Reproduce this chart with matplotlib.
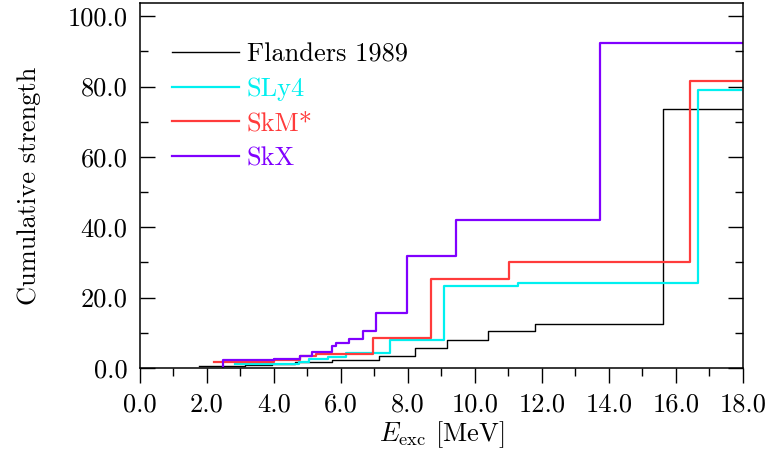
import matplotlib
matplotlib.use("Agg")
import matplotlib.pyplot as plt
from matplotlib.ticker import MultipleLocator, FormatStrFormatter

plt.rcParams['font.family'] = 'cmr10'
plt.rcParams['mathtext.fontset'] = 'cm'
plt.rcParams['axes.formatter.use_mathtext'] = True

# step edges (MeV) and cumulative strength after each edge
flanders_e = [1.76, 3.13, 3.93, 4.63, 5.72, 7.13, 8.20, 9.18, 10.40, 11.80, 15.62, 18.0]
flanders_s = [0.57, 0.85, 1.1, 1.7, 2.1, 3.3, 5.6, 7.8, 10.4, 12.5, 73.7, 73.7]

sly4_e = [2.84, 4.75, 5.05, 5.60, 6.15, 7.48, 9.07, 11.30, 16.65, 17.95]
sly4_s = [1.2, 1.8, 2.5, 3.2, 4.2, 7.8, 23.3, 24.0, 79.1, 79.1]

skm_e = [2.21, 4.00, 4.78, 5.27, 6.95, 8.69, 11.02, 16.42, 18.0]
skm_s = [1.8, 2.2, 3.3, 4.0, 8.6, 25.3, 30.0, 81.6, 81.6]

skx_e = [2.47, 2.47, 4.00, 4.78, 5.14, 5.72, 5.85, 6.25, 6.65, 7.05, 7.97, 9.43, 13.73, 18.0]
skx_s = [0.0, 2.3, 2.6, 3.5, 4.4, 6.2, 7.0, 8.2, 10.4, 15.6, 31.7, 42.0, 92.5, 92.5]

fig = plt.figure(figsize=(7.69, 4.57), dpi=100)
ax = fig.add_axes([0.182, 0.195, 0.784, 0.798])

ax.step(flanders_e, flanders_s, where='post', color='#000000', lw=1.0, label='Flanders 1989')
ax.step(sly4_e, sly4_s, where='post', color='#00f0f0', lw=1.6, label='SLy4')
ax.step(skm_e, skm_s, where='post', color='#ff3b3b', lw=1.6, label='SkM*')
ax.step(skx_e, skx_s, where='post', color='#8000ff', lw=1.6, label='SkX')

ax.set_xlim(0, 18)
ax.set_ylim(0, 103.7)
ax.xaxis.set_major_locator(MultipleLocator(2))
ax.xaxis.set_minor_locator(MultipleLocator(1))
ax.yaxis.set_major_locator(MultipleLocator(20))
ax.yaxis.set_minor_locator(MultipleLocator(10))
ax.xaxis.set_major_formatter(FormatStrFormatter('%.1f'))
ax.yaxis.set_major_formatter(FormatStrFormatter('%.1f'))

ax.tick_params(axis='x', which='major', direction='out', length=11, width=1.0, top=False, labelsize=19, pad=7)
ax.tick_params(axis='x', which='minor', direction='out', length=6, width=1.0, top=False)
ax.tick_params(axis='y', which='major', direction='in', length=11, width=1.0, right=True, labelsize=19, pad=9)
ax.tick_params(axis='y', which='minor', direction='in', length=6, width=1.0, right=True)
for s in ax.spines.values():
    s.set_linewidth(1.1)

ax.set_xlabel(r'$E_\mathrm{exc}$ [MeV]', fontsize=19, labelpad=2)
ax.set_ylabel('Cumulative strength', fontsize=19, labelpad=19)

leg = ax.legend(loc='upper left', bbox_to_anchor=(0.013, 0.958), frameon=False,
                fontsize=19, handlelength=2.55, handletextpad=0.3, labelspacing=0.42)
for txt, line in zip(leg.get_texts(), leg.get_lines()):
    txt.set_color(line.get_color())

fig.savefig('out.png', dpi=100)
